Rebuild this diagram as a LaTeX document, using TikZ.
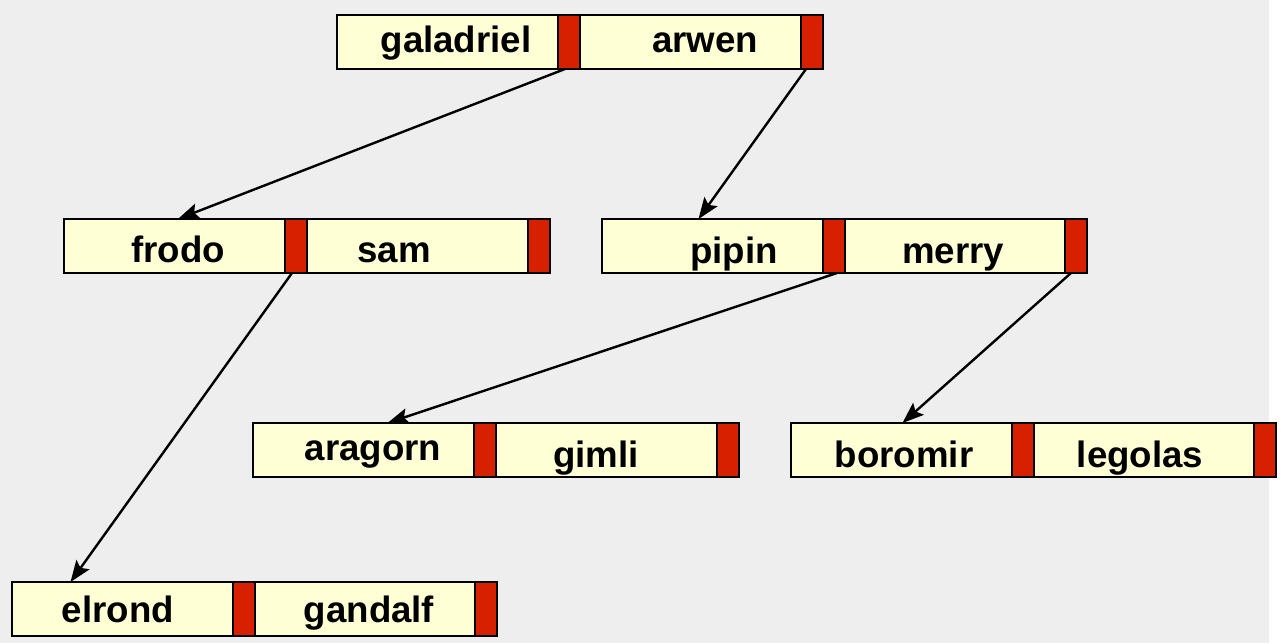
\documentclass[tikz,border=0pt]{standalone}
\usepackage{fontspec}
\setmainfont{Liberation Sans}
\usetikzlibrary{arrows.meta}

\definecolor{bggray}{RGB}{238,238,238}
\definecolor{keycream}{RGB}{255,255,214}
\definecolor{ptrred}{RGB}{214,32,0}

\tikzset{
  keycell/.style={draw=black, fill=keycream, line width=2.2pt, minimum width=165.75pt, minimum height=40.5pt, inner sep=0pt, outer sep=0pt, anchor=north west},
  ptrcell/.style={keycell, fill=ptrred, minimum width=16.5pt},
  keytext/.style={anchor=base, inner sep=0.75pt, font=\fontsize{27.5}{30}\selectfont\bfseries},
  link/.style={line width=1.8pt, -{Stealth[length=16pt,width=12pt,inset=3pt]}}
}

\begin{document}
\begin{tikzpicture}[x=0.75pt,y=0.75pt,yscale=-1]
\useasboundingbox (0,0) rectangle (1281,643);
%Background
\fill[bggray] (0,0) rectangle (1269,643);

%Record: galadriel arwen
\node[keycell] (galadriel) at (337,15) {};
\node[ptrcell] (galadriel-p) at (558,15) {};
\node[keycell] (arwen) at (580,15) {};
\node[ptrcell] (arwen-p) at (801,15) {};

%Record: frodo sam
\node[keycell] (frodo) at (64,219) {};
\node[ptrcell] (frodo-p) at (285,219) {};
\node[keycell] (sam) at (307,219) {};
\node[ptrcell] (sam-p) at (528,219) {};

%Record: pipin merry
\node[keycell] (pipin) at (602,219) {};
\node[ptrcell] (pipin-p) at (823,219) {};
\node[keycell] (merry) at (845,219) {};
\node[ptrcell] (merry-p) at (1065,219) {};

%Record: aragorn gimli
\node[keycell] (aragorn) at (253,423) {};
\node[ptrcell] (aragorn-p) at (474,423) {};
\node[keycell] (gimli) at (496,423) {};
\node[ptrcell] (gimli-p) at (717,423) {};

%Record: boromir legolas
\node[keycell] (boromir) at (791,423) {};
\node[ptrcell] (boromir-p) at (1012,423) {};
\node[keycell] (legolas) at (1034,423) {};
\node[ptrcell] (legolas-p) at (1254,423) {};

%Record: elrond gandalf
\node[keycell] (elrond) at (12,582) {};
\node[ptrcell] (elrond-p) at (233,582) {};
\node[keycell] (gandalf) at (255,582) {};
\node[ptrcell] (gandalf-p) at (475,582) {};

% Text Node
\node[keytext] (galadriel-t) at (456,52) {galadriel};
% Text Node
\node[keytext] (arwen-t) at (705,52) {arwen};
% Text Node
\node[keytext] (frodo-t) at (178,262) {frodo};
% Text Node
\node[keytext] (sam-t) at (394,262) {sam};
% Text Node
\node[keytext] (pipin-t) at (734,263) {pipin};
% Text Node
\node[keytext] (merry-t) at (953,263) {merry};
% Text Node
\node[keytext] (aragorn-t) at (373,460) {aragorn};
% Text Node
\node[keytext] (gimli-t) at (596,467) {gimli};
% Text Node
\node[keytext] (boromir-t) at (904,467) {boromir};
% Text Node
\node[keytext] (legolas-t) at (1140,467) {legolas};
% Text Node
\node[keytext] (elrond-t) at (118,622) {elrond};
% Text Node
\node[keytext] (gandalf-t) at (369,622) {gandalf};

%Pointers
\draw[link] ([xshift=-3pt]galadriel-p.south) -- ([xshift=2.6pt]frodo.north);
\draw[link] ([xshift=-4.5pt]arwen-p.south) -- ([xshift=-10.5pt]pipin.north);
\draw[link] ([xshift=-3pt]frodo-p.south) -- ([xshift=-39pt]elrond.north);
\draw[link] ([xshift=2.25pt]pipin-p.south) -- ([xshift=18pt]aragorn.north);
\draw[link] ([xshift=-3.75pt]merry-p.south) -- ([xshift=0.75pt]boromir.north);

\end{tikzpicture}
\end{document}
